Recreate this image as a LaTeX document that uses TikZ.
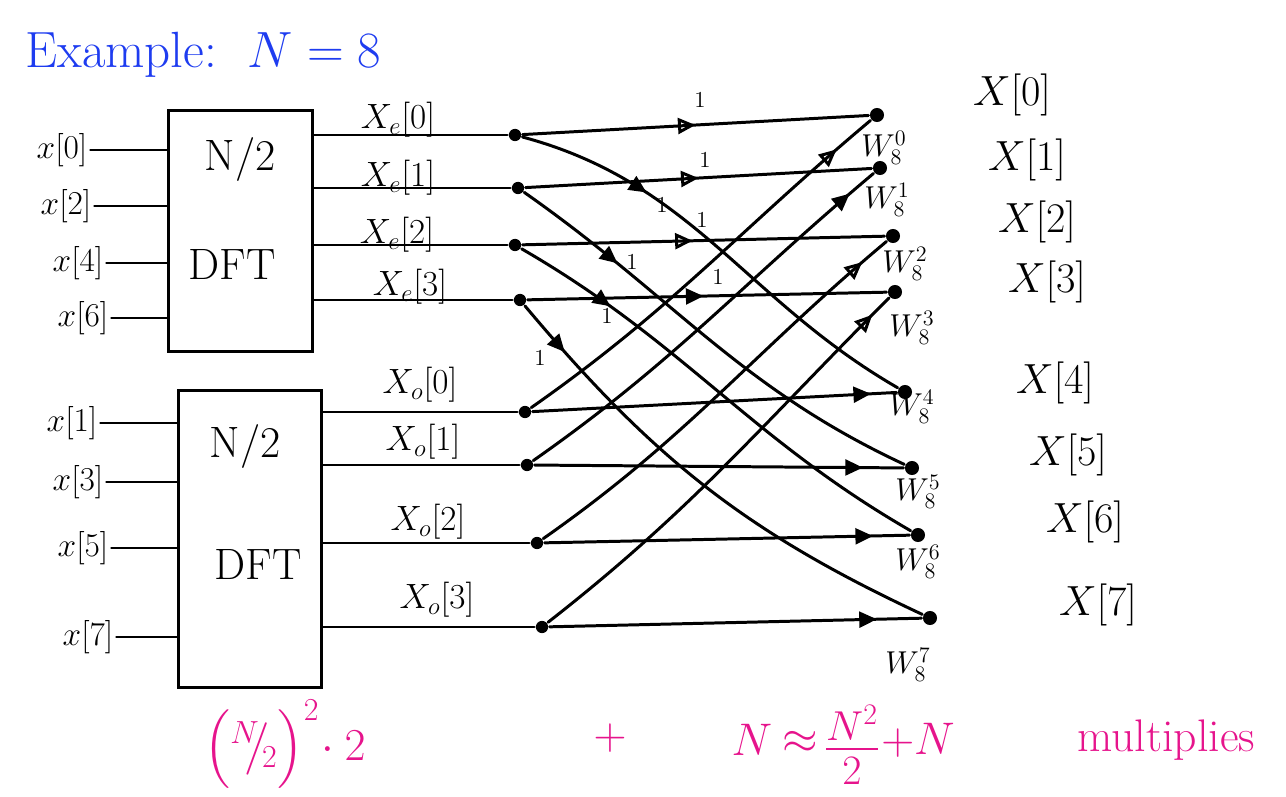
\RequirePackage{fix-cm}
\documentclass[tikz,border=0pt]{standalone}
\usepackage{amsmath}
\usepackage{fontspec}
\usetikzlibrary{arrows.meta,decorations.markings}
\definecolor{penblue}{RGB}{30,60,240}
\definecolor{penpink}{RGB}{230,20,140}
\begin{document}
\begin{tikzpicture}[x=0.02cm,y=-0.02cm,line width=1.7pt,line cap=round,
  dot/.style={circle,fill,inner sep=0pt,minimum size=7pt},
  odot/.style={circle,fill,inner sep=0pt,minimum size=8pt},
  box/.style={draw,line width=1.7pt,inner sep=0pt},
  inlab/.style={font=\fontsize{19}{21}\selectfont,inner sep=1pt},
  boxtxt/.style={font=\fontsize{25}{27}\selectfont},
  xlab/.style={font=\fontsize{20}{22}\selectfont},
  outlab/.style={font=\fontsize{24}{26}\selectfont},
  wlab/.style={font=\fontsize{18}{20}\selectfont},
  one/.style={font=\fontsize{13}{14}\selectfont},
  pink/.style={text=penpink,font=\fontsize{26}{28}\selectfont},
  marr/.style={postaction={decorate},decoration={markings,mark=at position #1 with {\arrow{Triangle[length=10pt,width=9pt]}}}},
  oarr/.style={postaction={decorate},decoration={markings,mark=at position #1 with {\arrow{Triangle[open,length=10pt,width=9pt]}}}}]
\useasboundingbox (0,0) rectangle (1286,797);

% title
\node[text=penblue,font=\fontsize{29}{31}\selectfont,anchor=west] (title) at (18,55) {Example:\ \ $N=8$};

% boxes
\node[box,minimum width=2.9cm,minimum height=4.84cm] (b1) at (240.5,231) {};
\node[box,minimum width=2.88cm,minimum height=5.96cm] (b2) at (250,539) {};
\node[boxtxt] (b1a) at (240,160) {N/2};
\node[boxtxt] (b1b) at (232,265) {DFT};
\node[boxtxt] (b2a) at (245,447) {N/2};
\node[boxtxt] (b2b) at (258,565) {DFT};

% inputs
\node[inlab] (i0) at (62,150) {$x[0]$};
\node[inlab] (i2) at (66,206) {$x[2]$};
\node[inlab] (i4) at (78,263) {$x[4]$};
\node[inlab] (i6) at (83,318) {$x[6]$};
\node[inlab] (i1) at (72,423) {$x[1]$};
\node[inlab] (i3) at (78,482) {$x[3]$};
\node[inlab] (i5) at (83,548) {$x[5]$};
\node[inlab] (i7) at (88,637) {$x[7]$};
\foreach \n in {i0,i2,i4,i6} \draw (\n.east) -- (\n.east -| b1.west);
\foreach \n in {i1,i3,i5,i7} \draw (\n.east) -- (\n.east -| b2.west);

% butterfly nodes
\node[dot] (e0) at (515,135) {};
\node[dot] (e1) at (518,188) {};
\node[dot] (e2) at (515,245) {};
\node[dot] (e3) at (520,300) {};
\node[dot] (d0) at (525,412) {};
\node[dot] (d1) at (527,465) {};
\node[dot] (d2) at (537,543) {};
\node[dot] (d3) at (542,627) {};
\node[odot] (o0) at (877,115) {};
\node[odot] (o1) at (880,168) {};
\node[odot] (o2) at (893,236) {};
\node[odot] (o3) at (895,292) {};
\node[odot] (o4) at (905,392) {};
\node[odot] (o5) at (912,468) {};
\node[odot] (o6) at (918,535) {};
\node[odot] (o7) at (930,618) {};

% DFT outputs
\foreach \n in {e0,e1,e2,e3} \draw (\n -| b1.east) -- (\n);
\foreach \n in {d0,d1,d2,d3} \draw (\n -| b2.east) -- (\n);
\node[xlab] (le0) at (398,120) {$X_e[0]$};
\node[xlab] (le1) at (398,178) {$X_e[1]$};
\node[xlab] (le2) at (397,235) {$X_e[2]$};
\node[xlab] (le3) at (410,287) {$X_e[3]$};
\node[xlab] (lo0) at (420,385) {$X_o[0]$};
\node[xlab] (lo1) at (423,442) {$X_o[1]$};
\node[xlab] (lo2) at (428,522) {$X_o[2]$};
\node[xlab] (lo3) at (437,600) {$X_o[3]$};

% even: straight to top outputs
\draw[oarr=0.5] (e0) -- (o0);
\draw[oarr=0.5] (e1) -- (o1);
\draw[oarr=0.47] (e2) -- (o2);
\draw[marr=0.49] (e3) -- (o3);
% even: curves down to bottom outputs
\draw[marr=0.3] (e0) to[out=-15,in=150] (o4);
\draw[marr=0.25] (e1) to[out=-35,in=155] (o5);
\draw[marr=0.22] (e2) to[out=-30,in=150] (o6);
\draw[marr=0.12] (e3) to[out=-50,in=155] (o7);
% odd: diagonals up
\draw[oarr=0.9] (d0) to[out=35,in=-140] (o0);
\draw[marr=0.93] (d1) to[out=35,in=-140] (o1);
\draw[oarr=0.93] (d2) to[out=35,in=-140] (o2);
\draw[oarr=0.95] (d3) to[out=38,in=-135] (o3);
% odd: horizontal
\draw[marr=0.93] (d0) -- (o4);
\draw[marr=0.89] (d1) -- (o5);
\draw[marr=0.9] (d2) -- (o6);
\draw[marr=0.88] (d3) -- (o7);

% weights 1
\node[one] (w1a) at (700,100) {1};
\node[one] (w1b) at (705,160) {1};
\node[one] (w1c) at (702,220) {1};
\node[one] (w1d) at (718,277) {1};
\node[one] (w1e) at (662,205) {1};
\node[one] (w1f) at (632,262) {1};
\node[one] (w1g) at (607,316) {1};
\node[one] (w1h) at (540,358) {1};

% twiddles
\node[wlab] (W0) at (884,148) {$W_8^0$};
\node[wlab] (W1) at (887,200) {$W_8^1$};
\node[wlab] (W2) at (905,264) {$W_8^2$};
\node[wlab] (W3) at (912,328) {$W_8^3$};
\node[wlab] (W4) at (912,407) {$W_8^4$};
\node[wlab] (W5) at (918,492) {$W_8^5$};
\node[wlab] (W6) at (918,562) {$W_8^6$};
\node[wlab] (W7) at (908,665) {$W_8^7$};

% outputs
\node[outlab] (X0) at (1012,95) {$X[0]$};
\node[outlab] (X1) at (1027,160) {$X[1]$};
\node[outlab] (X2) at (1037,222) {$X[2]$};
\node[outlab] (X3) at (1047,282) {$X[3]$};
\node[outlab] (X4) at (1055,383) {$X[4]$};
\node[outlab] (X5) at (1068,455) {$X[5]$};
\node[outlab] (X6) at (1085,522) {$X[6]$};
\node[outlab] (X7) at (1098,605) {$X[7]$};

% bottom formula
\node[pink] (f1) at (285,745) {$\Bigl({}^{N}\!\!\big/\!{}_{2}\Bigr)^{2}\!\cdot 2$};
\node[pink] (f2) at (610,738) {$+$};
\node[pink] (f3) at (752,740) {$N$};
\node[pink] (f4) at (800,742) {$\approx$};
\node[pink,font=\fontsize{34}{36}\selectfont] (f5) at (852,745) {$\frac{N^2}{2}$};
\node[pink] (f6) at (918,740) {$+N$};
\node[pink,anchor=west] (f7) at (1070,740) {multiplies};
\end{tikzpicture}
\end{document}
